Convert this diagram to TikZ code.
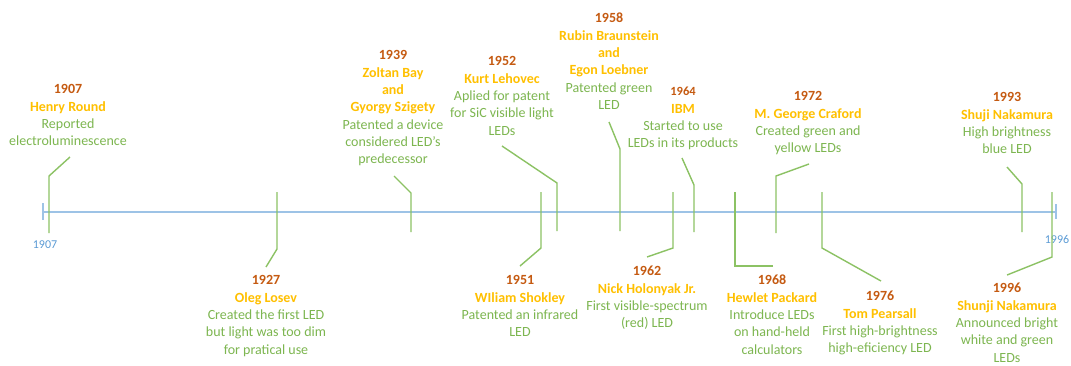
\documentclass[tikz,border=0pt]{standalone}
\usepackage{fontspec}
\setmainfont{Carlito}
\definecolor{yearc}{HTML}{C55A11}
\definecolor{namec}{HTML}{FFC000}
\definecolor{descc}{HTML}{7DB650}
\definecolor{leadc}{HTML}{8CC264}
\definecolor{axisc}{HTML}{9DC3E6}
\definecolor{axlab}{HTML}{5B9BD5}
\newcommand{\yr}[1]{\strut\textbf{\color{yearc}#1}}
\newcommand{\nm}[1]{\textbf{\color{namec}#1}}
\tikzset{
  ev/.style={anchor=north, inner sep=0pt, align=center, text=descc,
    font=\fontsize{14}{17.3}\selectfont},
  lead/.style={draw=leadc, line width=1.4pt},
  axisline/.style={draw=axisc, line width=2pt},
  axlabel/.style={inner sep=0pt, text=axlab, font=\fontsize{12}{14}\selectfont}
}
\begin{document}
\begin{tikzpicture}[x=1pt,y=-1pt]
\useasboundingbox (0,0) rectangle (1071,365);
\fill[white] (0,0) rectangle (1071,365);
% axis
\coordinate (axL) at (43,212);
\coordinate (axR) at (1056,212);
\coordinate (tLt) at (43,203);
\coordinate (tLb) at (43,220);
\coordinate (tRt) at (1056,204);
\coordinate (tRb) at (1056,219);
\draw[axisline] (axL) -- (axR);
\draw[axisc, line width=1.6pt] (tLt) -- (tLb);
\draw[axisc, line width=1.6pt] (tRt) -- (tRb);
\node[axlabel] (lab1907) at (45,245) {1907};
\node[axlabel] (lab1996) at (1057,239) {1996};
% events
\node[ev] (e1907) at (68,81.5) {\yr{1907}\\\nm{Henry Round}\\Reported\\electroluminescence};
\node[ev] (e1927) at (266,272.5) {\yr{1927}\\\nm{Oleg Losev}\\Created the first LED\\but light was too dim\\for pratical use};
\node[ev] (e1939) at (393,47.5) {\yr{1939}\\\nm{Zoltan Bay}\\\nm{and}\\\nm{Gyorgy Szigety}\\Patented a device\\considered LED’s\\predecessor};
\node[ev] (e1951) at (520,272.5) {\yr{1951}\\\nm{WIliam Shokley}\\Patented an infrared\\LED};
\node[ev] (e1952) at (502,53.5) {\yr{1952}\\\nm{Kurt Lehovec}\\Aplied for patent\\for SiC visible light\\LEDs};
\node[ev] (e1958) at (609,10.5) {\yr{1958}\\\nm{Rubin Braunstein}\\\nm{and}\\\nm{Egon Loebner}\\Patented green\\LED};
\node[ev] (e1962) at (647,263.5) {\yr{1962}\\\nm{Nick Holonyak Jr.}\\First visible-spectrum\\(red) LED};
\node[ev] (e1964) at (683,83.5) {\strut{\fontsize{12.5}{17.3}\selectfont\textbf{\color{yearc}1964}}\\\nm{IBM}\\Started to use\\LEDs in its products};
\node[ev] (e1968) at (772,272.5) {\yr{1968}\\\nm{Hewlet Packard}\\Introduce LEDs\\on hand-held\\calculators};
\node[ev] (e1972) at (808,88.5) {\yr{1972}\\\nm{M. George Craford}\\Created green and\\yellow LEDs};
\node[ev] (e1976) at (880,288.5) {\yr{1976}\\\nm{Tom Pearsall}\\First high-brightness\\high-eficiency LED};
\node[ev] (e1993) at (1007,89.5) {\yr{1993}\\\nm{Shuji Nakamura}\\High brightness\\blue LED};
\node[ev] (e1996) at (1007,280.5) {\yr{1996}\\\nm{Shunji Nakamura}\\Announced bright\\white and green\\LEDs};
% leader lines
\coordinate (a1907) at (70,157);  \coordinate (b1907) at (49,176);  \coordinate (c1907) at (49,233);
\coordinate (a1927) at (266,267); \coordinate (b1927) at (277,249); \coordinate (c1927) at (277,192);
\coordinate (a1939) at (394,176); \coordinate (b1939) at (411,193); \coordinate (c1939) at (411,232);
\coordinate (a1951) at (520,266); \coordinate (b1951) at (541,248); \coordinate (c1951) at (541,192);
\coordinate (a1952) at (502,146); \coordinate (b1952) at (557,183); \coordinate (c1952) at (557,231);
\coordinate (a1958) at (609,122); \coordinate (b1958) at (620,149); \coordinate (c1958) at (620,231);
\coordinate (a1962) at (647,257); \coordinate (b1962) at (673,248); \coordinate (c1962) at (673,192);
\coordinate (a1964) at (682,158); \coordinate (b1964) at (694,185); \coordinate (c1964) at (694,232);
\coordinate (a1968) at (773,266); \coordinate (b1968) at (735,266); \coordinate (c1968) at (735,192);
\coordinate (a1972) at (809,164); \coordinate (b1972) at (776,176); \coordinate (c1972) at (776,233);
\coordinate (a1976) at (881,281); \coordinate (b1976) at (822,248); \coordinate (c1976) at (822,192);
\coordinate (a1993) at (1007,167); \coordinate (b1993) at (1022,184); \coordinate (c1993) at (1022,232);
\coordinate (a1996) at (1007,275); \coordinate (b1996) at (1052,257); \coordinate (c1996) at (1052,192);
\foreach \y in {1907,1927,1939,1951,1952,1958,1962,1964,1968,1972,1976,1993,1996}
  \draw[lead] (a\y) -- (b\y) -- (c\y);
\end{tikzpicture}
\end{document}
